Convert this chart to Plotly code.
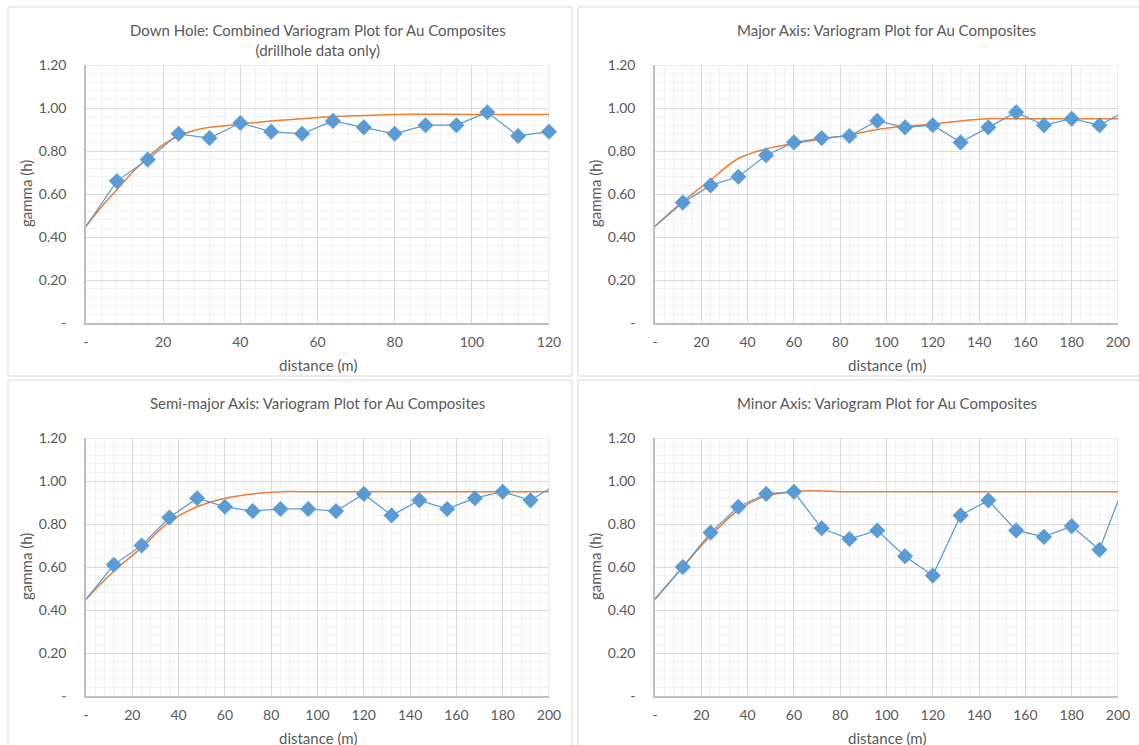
import plotly.graph_objects as go

W, H = 1139, 745

# ---------------- data ----------------
titles = [
    "Down Hole: Combined Variogram Plot for Au Composites<br>(drillhole data only)",
    "Major Axis: Variogram Plot for Au Composites",
    "Semi-major Axis: Variogram Plot for Au Composites",
    "Minor Axis: Variogram Plot for Au Composites",
]

# Down hole experimental variogram
dh_x = [0, 8, 16, 24, 32, 40, 48, 56, 64, 72, 80, 88, 96, 104, 112, 120]
dh_y = [0.45, 0.66, 0.76, 0.88, 0.86, 0.93, 0.89, 0.88, 0.94, 0.91, 0.88, 0.92, 0.92, 0.98, 0.87, 0.89]
# Down hole model
dhm_x = [0, 4, 8, 12, 16, 20, 24, 28, 32, 40, 48, 56, 64, 72, 80, 100, 120]
dhm_y = [0.45, 0.54, 0.62, 0.70, 0.77, 0.83, 0.87, 0.895, 0.91, 0.925, 0.94, 0.95, 0.96, 0.965, 0.97, 0.97, 0.97]

# Major axis
maj_x = [0, 12, 24, 36, 48, 60, 72, 84, 96, 108, 120, 132, 144, 156, 168, 180, 192, 204]
maj_y = [0.45, 0.56, 0.64, 0.68, 0.78, 0.84, 0.86, 0.87, 0.94, 0.91, 0.92, 0.84, 0.91, 0.98, 0.92, 0.95, 0.92, 0.99]
majm_x = [0, 12, 24, 36, 48, 60, 72, 84, 96, 108, 120, 132, 144, 156, 200]
majm_y = [0.45, 0.565, 0.665, 0.765, 0.81, 0.835, 0.855, 0.875, 0.90, 0.915, 0.925, 0.94, 0.95, 0.95, 0.95]

# Semi-major axis
semi_x = [0, 12, 24, 36, 48, 60, 72, 84, 96, 108, 120, 132, 144, 156, 168, 180, 192, 204]
semi_y = [0.45, 0.61, 0.70, 0.83, 0.92, 0.88, 0.86, 0.87, 0.87, 0.86, 0.94, 0.84, 0.91, 0.87, 0.92, 0.95, 0.91, 0.99]
semim_x = [0, 12, 24, 36, 48, 60, 72, 84, 100, 200]
semim_y = [0.45, 0.58, 0.69, 0.81, 0.88, 0.92, 0.94, 0.95, 0.95, 0.95]

# Minor axis
min_x = [0, 12, 24, 36, 48, 60, 72, 84, 96, 108, 120, 132, 144, 156, 168, 180, 192, 204]
min_y = [0.45, 0.60, 0.76, 0.88, 0.94, 0.95, 0.78, 0.73, 0.77, 0.65, 0.56, 0.84, 0.91, 0.77, 0.74, 0.79, 0.68, 1.02]
minm_x = [0, 12, 24, 36, 48, 60, 70, 80, 100, 200]
minm_y = [0.45, 0.60, 0.745, 0.865, 0.93, 0.95, 0.955, 0.95, 0.95, 0.95]

y_tickvals = [0, 0.2, 0.4, 0.6, 0.8, 1.0, 1.2]
y_ticktext = ["-", "0.20", "0.40", "0.60", "0.80", "1.00", "1.20"]
x1_tickvals = [0, 20, 40, 60, 80, 100, 120]
x1_ticktext = ["-", "20", "40", "60", "80", "100", "120"]
x2_tickvals = [0, 20, 40, 60, 80, 100, 120, 140, 160, 180, 200]
x2_ticktext = ["-", "20", "40", "60", "80", "100", "120", "140", "160", "180", "200"]

# ---------------- layout geometry (pixels) ----------------
panels = [
    dict(px=(86, 549), py=(65, 323), box=(8, 572, 7, 376), xmax=120,
         exp=(dh_x, dh_y), mod=(dhm_x, dhm_y), xt=(x1_tickvals, x1_ticktext)),
    dict(px=(655, 1118), py=(65, 323), box=(578, 1145, 7, 376), xmax=200,
         exp=(maj_x, maj_y), mod=(majm_x, majm_y), xt=(x2_tickvals, x2_ticktext)),
    dict(px=(86, 549), py=(438, 696), box=(8, 572, 380, 750), xmax=200,
         exp=(semi_x, semi_y), mod=(semim_x, semim_y), xt=(x2_tickvals, x2_ticktext)),
    dict(px=(655, 1118), py=(438, 696), box=(578, 1145, 380, 750), xmax=200,
         exp=(min_x, min_y), mod=(minm_x, minm_y), xt=(x2_tickvals, x2_ticktext)),
]

FONT = "Lato, 'Open Sans', sans-serif"
TXT = "#595959"
BLUE = "#5b9bd5"
ORANGE = "#ed7d31"

fig = go.Figure()
layout = dict(
    width=W, height=H,
    margin=dict(l=0, r=0, t=0, b=0, autoexpand=False),
    paper_bgcolor="white", plot_bgcolor="white",
    showlegend=False,
    font=dict(family=FONT, color=TXT, size=14),
    shapes=[], annotations=[],
)

for i, p in enumerate(panels):
    n = "" if i == 0 else str(i + 1)
    xa, ya = "x" + n, "y" + n
    ex, ey = p["exp"]
    mx, my = p["mod"]
    sizes = [0 if (v == 0 or v > p["xmax"]) else 12 for v in ex]
    fig.add_trace(go.Scatter(
        x=mx, y=my, mode="lines", xaxis=xa, yaxis=ya,
        line=dict(color=ORANGE, width=1.5, shape="spline", smoothing=1.0),
        hoverinfo="skip"))
    fig.add_trace(go.Scatter(
        x=ex, y=ey, mode="lines+markers", xaxis=xa, yaxis=ya,
        line=dict(color=BLUE, width=1.25),
        marker=dict(symbol="diamond", size=sizes, color=BLUE, opacity=1,
                    line=dict(color=BLUE, width=0.5)),
        cliponaxis=False))

    xd = [p["px"][0] / W, p["px"][1] / W]
    yd = [1 - p["py"][1] / H, 1 - p["py"][0] / H]
    layout["xaxis" + n] = dict(
        domain=xd, anchor=ya, range=[0, p["xmax"]], automargin=False,
        tickvals=p["xt"][0], ticktext=p["xt"][1], ticks="",
        showline=True, linecolor="#bfbfbf", linewidth=1.5,
        showgrid=True, gridcolor="#d9d9d9", gridwidth=1, zeroline=False,
        minor=dict(tickmode="linear", tick0=0, dtick=4, showgrid=True,
                   gridcolor="#f0f0f0", gridwidth=1, ticks=""),
        tickfont=dict(size=14, color=TXT), ticklabelstandoff=5,
        fixedrange=True,
    )
    layout["yaxis" + n] = dict(
        domain=yd, anchor=xa, range=[0, 1.2], automargin=False,
        tickvals=y_tickvals, ticktext=y_ticktext, ticks="",
        showline=True, linecolor="#bfbfbf", linewidth=1.5,
        showgrid=True, gridcolor="#d9d9d9", gridwidth=1, zeroline=False,
        minor=dict(tickmode="linear", tick0=0, dtick=0.04, showgrid=True,
                   gridcolor="#f0f0f0", gridwidth=1, ticks=""),
        tickfont=dict(size=14, color=TXT), ticklabelstandoff=15,
        fixedrange=True,
    )
    # top / right border gridlines
    layout["shapes"].append(dict(type="line", xref=xa, yref=ya, x0=0, x1=p["xmax"], y0=1.2, y1=1.2,
                                 line=dict(color="#d9d9d9", width=1), layer="below"))
    layout["shapes"].append(dict(type="line", xref=xa, yref=ya, x0=p["xmax"], x1=p["xmax"], y0=0, y1=1.2,
                                 line=dict(color="#d9d9d9", width=1), layer="below"))
    # panel box
    bx0, bx1, by0, by1 = p["box"]
    layout["shapes"].append(dict(type="rect", xref="paper", yref="paper",
                                 x0=bx0 / W, x1=bx1 / W, y0=1 - by1 / H, y1=1 - by0 / H,
                                 line=dict(color="#d9d9d9", width=1), fillcolor="rgba(0,0,0,0)",
                                 layer="below"))
    cx = (p["px"][0] + p["px"][1]) / 2 / W
    ty = by0 + 12
    layout["annotations"].append(dict(
        text=titles[i], xref="paper", yref="paper", x=cx, y=1 - ty / H,
        xanchor="center", yanchor="top", showarrow=False,
        font=dict(size=15, color=TXT, family=FONT), align="center"))
    # axis titles
    layout["annotations"].append(dict(
        text="distance (m)", xref="paper", yref="paper", x=cx, y=1 - (p["py"][1] + 42) / H,
        xanchor="center", yanchor="middle", showarrow=False,
        font=dict(size=15, color=TXT, family=FONT)))
    layout["annotations"].append(dict(
        text="gamma (h)", xref="paper", yref="paper",
        x=(p["px"][0] - 60) / W, y=1 - (p["py"][0] + p["py"][1]) / 2 / H,
        xanchor="center", yanchor="middle", showarrow=False, textangle=-90,
        font=dict(size=15, color=TXT, family=FONT)))

fig.update_layout(**layout)
fig.write_html("out.html", config={"displayModeBar": False},
               post_script="document.body.style.margin='0';document.body.style.overflow='hidden';")
